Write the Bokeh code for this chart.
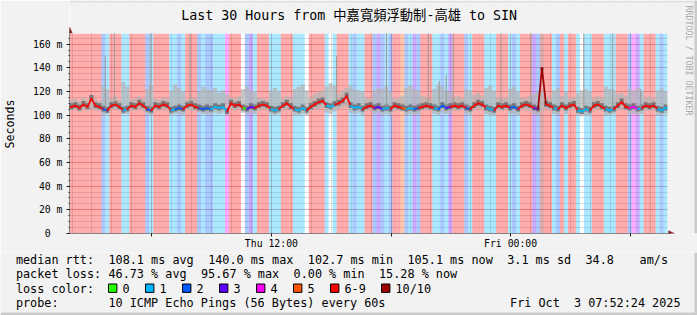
import math
from bokeh.plotting import figure
from bokeh.layouts import column
from bokeh.models import Range1d, FixedTicker
from bokeh.core.properties import value
from bokeh.embed import file_html
from bokeh.resources import INLINE

# ---------------- data ----------------
TITLE = "Last 30 Hours from 中嘉寬頻浮動制-高雄 to SIN"
START_HOUR = 1 + 52 / 60 + 24 / 3600      # Thu 01:52:24 in hours since Thu 00:00
SPAN_HOURS = 30
STEP_HOURS = 0.2                           # one cell = 12 minutes
Y_MAX_MS = 169

# packets lost out of 10 per cell (7 stands for the 6-9 class)
loss = [
    7, 7, 7, 7, 7, 7, 7, 7,
    2, 1,
    7, 7, 7,
    1, 1,
    7, 7, 7, 7,
    2, 1,
    7, 7, 7, 7,
    1, 1, 2, 1,
    7, 7, 7,
    2, 1, 2, 2, 1,
    1, 1, 4,
    7, 7, 7,
    0, 2, 3, 1,
    7, 7, 7,
    1, 1, 1,
    7, 7, 7,
    1, 1, 1, 0,
    7, 7, 7, 7,
    1, 0, 1,
    7, 7, 7,
    1, 2, 1, 1,
    7, 7,
    2, 3, 2, 1, 2,
    7, 7, 5,
    2, 1, 3, 2,
    7, 7, 7,
    1, 1, 2, 1, 3,
    7, 7, 7,
    2, 1,
    7, 7, 7,
    1, 1, 1,
    7, 7, 7,
    1, 2, 1,
    7, 7, 7,
    3, 2, 10,
    7, 7,
    1, 2, 7, 1,
    7, 7,
    1, 0, 1, 1,
    7, 7, 7,
    1, 1, 1,
    7, 7, 7,
    2, 4, 3, 1,
    7, 7, 7,
    1, 2, 1,
]

median_ms = [
    107, 108, 106, 109, 107, 114, 108, 107,
    105, 104,
    108, 109, 107,
    104, 105,
    108, 107, 110, 108,
    105, 104,
    108, 107, 109, 108,
    104, 105, 106, 105,
    108, 109, 107,
    106, 105, 106, 105, 107,
    106, 107, 103,
    110, 108, 109,
    106, 105, 107, 106,
    108, 109, 108,
    105, 104, 105,
    108, 110, 107,
    105, 104, 106, 104,
    107, 109, 111, 112,
    108, 107, 109,
    110, 112, 116,
    108, 106, 107, 105,
    107, 108,
    106, 107, 105, 106, 105,
    108, 107, 106,
    105, 106, 105, 106,
    107, 108, 107,
    106, 105, 108, 106, 107,
    108, 107, 108,
    106, 105,
    108, 110, 109,
    106, 105, 104,
    108, 107, 108,
    106, 107, 105,
    108, 109, 108,
    106, 105, 140,
    109, 108,
    106, 105, 108, 106,
    108, 109,
    104, 103, 105, 104,
    108, 109, 107,
    105, 104, 105,
    108, 111, 107,
    106, 107, 105, 106,
    108, 107, 108,
    105, 104, 106,
]

smoke_lo_ms = [
    104, 105, 103, 105, 104, 105, 104, 104,
    100, 101,
    105, 105, 104,
    101, 101,
    104, 104, 105, 104,
    101, 100,
    104, 104, 105, 104,
    100, 101, 101, 100,
    105, 104, 104,
    102, 101, 101, 101, 102,
    101, 102, 100,
    105, 104, 105,
    102, 101, 102, 101,
    104, 105, 104,
    101, 100, 101,
    104, 105, 104,
    100, 100, 101, 100,
    104, 105, 105, 106,
    102, 101, 103,
    105, 106, 107,
    102, 101, 102, 100,
    104, 105,
    101, 102, 100, 101, 100,
    104, 104, 103,
    100, 101, 100, 101,
    104, 105, 104,
    101, 100, 102, 101, 101,
    104, 104, 105,
    101, 100,
    104, 105, 105,
    101, 100, 100,
    104, 104, 105,
    101, 101, 100,
    105, 104, 104,
    101, 100, 104,
    105, 104,
    101, 100, 104, 101,
    104, 105,
    100, 99, 100, 100,
    104, 105, 104,
    100, 100, 101,
    104, 105, 104,
    101, 101, 100, 101,
    104, 104, 105,
    100, 100, 101,
]

smoke_hi_ms = [
    113, 114, 112, 115, 113, 117, 114, 112,
    124, 122,
    114, 116, 113,
    128, 124,
    113, 114, 116, 114,
    122, 125,
    114, 113, 115, 114,
    121, 126, 123, 120,
    113, 115, 114,
    120, 124, 122, 121, 123,
    119, 121, 118,
    115, 114, 116,
    122, 124, 121, 120,
    115, 114, 113,
    121, 123, 120,
    114, 116, 115,
    122, 124, 126, 121,
    115, 118, 120, 121,
    124, 127, 125,
    118, 121, 123,
    125, 122, 121, 120,
    115, 114,
    121, 123, 122, 124, 120,
    114, 115, 116,
    123, 125, 122, 121,
    116, 115, 114,
    122, 126, 124, 121, 120,
    115, 116, 114,
    122, 121,
    117, 119, 116,
    123, 125, 121,
    115, 114, 115,
    122, 124, 120,
    115, 114, 116,
    118, 120, 120,
    115, 114,
    121, 123, 116, 120,
    114, 115,
    119, 121, 122, 120,
    114, 116, 115,
    124, 122, 121,
    118, 119, 116,
    122, 121, 123, 120,
    115, 116, 114,
    121, 123, 120,
]

# single pings far above the smoke (hour since Thu 00:00, ms)
spike_hour = [3.67, 4.12, 5.92, 7.92, 15.27, 17.77, 19.87, 20.42, 20.77, 21.12, 23.52, 25.02, 27.67, 29.12, 30.52]
spike_ms = [150, 175, 175, 175, 150, 175, 175, 129, 134, 175, 175, 175, 175, 175, 122]

y_tick_ms = [0, 20, 40, 60, 80, 100, 120, 140, 160]
y_tick_labels = ["0\u00a0\u00a0", "20 m", "40 m", "60 m", "80 m", "100 m", "120 m", "140 m", "160 m"]
y_minor_ms = list(range(0, 170, 5))
x_tick_hour = [6, 12, 18, 24, 30]
x_tick_labels = ["", "Thu 12:00", "", "Fri 00:00", ""]
x_minor_hour = list(range(2, 34))

loss_names = ["0", "1", "2", "3", "4", "5", "6-9", "10/10"]
loss_colors = ["#26ff00", "#00b8ff", "#0059ff", "#5e00ff", "#ff00ff", "#ff5500", "#ff0000", "#a10000"]

rtt_stats = ["108.1 ms avg", "140.0 ms max", "102.7 ms min", "105.1 ms now", "3.1 ms sd", "34.8", "am/s"]
loss_stats = ["46.73 % avg", "95.67 % max", "0.00 % min", "15.28 % now"]
probe_text = "10 ICMP Echo Pings (56 Bytes) every 60s"
stamp_text = "Fri Oct \u00a03 07:52:24 2025"
watermark = "RRDTOOL / TOBI OETIKER"


def loss_class(n):
    if n <= 5:
        return n
    if n <= 9:
        return 6
    return 7


# ---------------- layout constants (pixels) ----------------
W = 697
MAIN_H = 252
LEG_H = 315 - MAIN_H
LEFT = 67            # chart left edge
CHART_W = 600        # chart width (30 h)
CHART_TOP = 33
CHART_BOTTOM = 233
BG = "#f2f2f2"
MONO = "DejaVu Sans Mono"
INK = "#1f1f1f"
ARROW = "#801f1f"

frame_w = W - LEFT
x_end = START_HOUR + SPAN_HOURS * frame_w / CHART_W
y_end = Y_MAX_MS * CHART_BOTTOM / (CHART_BOTTOM - CHART_TOP)

p = figure(width=W, height=MAIN_H, output_backend="svg", toolbar_location=None, title=None,
           x_range=Range1d(START_HOUR, x_end), y_range=Range1d(0, y_end),
           min_border_left=LEFT, min_border_right=0, min_border_top=0,
           min_border_bottom=MAIN_H - CHART_BOTTOM,
           background_fill_color="#ffffff", border_fill_color=BG, outline_line_color=None)
p.extra_x_ranges = {"px": Range1d(LEFT, W)}
p.extra_y_ranges = {"px": Range1d(CHART_BOTTOM, 0)}

n = len(loss)
t0 = [START_HOUR + i * STEP_HOURS for i in range(n)]
t1 = [t + STEP_HOURS for t in t0]
tc = [t + STEP_HOURS / 2 for t in t0]
cls = [loss_class(v) for v in loss]
col = [loss_colors[c] for c in cls]
band_alpha = [0.0 if v == 0 else 0.33 for v in loss]

# loss background
p.quad(left=t0, right=t1, bottom=0, top=Y_MAX_MS, fill_color=col, fill_alpha=band_alpha, line_color=None)

# smoke
p.quad(left=t0, right=t1, bottom=smoke_lo_ms, top=smoke_hi_ms,
       fill_color="#b4b4b4", fill_alpha=0.75, line_color=None)
core_lo = [max(lo, m - 2) for lo, m in zip(smoke_lo_ms, median_ms)]
core_hi = [min(max(hi, m), m + 3) for hi, m in zip(smoke_hi_ms, median_ms)]
p.quad(left=t0, right=t1, bottom=core_lo, top=core_hi,
       fill_color="#404040", fill_alpha=0.55, line_color=None)

# isolated slow pings
spike_base = [median_ms[min(n - 1, int((h - START_HOUR) / STEP_HOURS))] for h in spike_hour]
p.segment(x0=spike_hour, y0=spike_base, x1=spike_hour, y1=spike_ms, line_color="#9a9a9a", line_width=1)

# median line, coloured by loss
sx0 = [t0[0]] + tc[:-1] + [tc[-1]]
sx1 = [tc[0]] + tc[1:] + [t1[-1]]
sy0 = [median_ms[0]] + median_ms[:-1] + [median_ms[-1]]
sy1 = [median_ms[0]] + median_ms[1:] + [median_ms[-1]]
scol = [col[0]] + [col[i] if median_ms[i] >= median_ms[i + 1] else col[i + 1] for i in range(n - 1)] + [col[-1]]
p.segment(x0=sx0, y0=sy0, x1=sx1, y1=sy1, line_color=scol, line_width=1.7, line_cap="round")

# canvas outside the chart area (above and right of it)
p.quad(left=[LEFT, LEFT + CHART_W], right=[W, W], top=[0, 0], bottom=[CHART_TOP, CHART_BOTTOM + 0.5],
       fill_color=BG, line_color=None, x_range_name="px", y_range_name="px")
p.quad(left=[LEFT, W - 3], right=[W, W], top=[0, 0], bottom=[2, CHART_BOTTOM],
       fill_color=["#e0e0e0", "#cbcbcb"], line_color=None, x_range_name="px", y_range_name="px")

# axis lines and arrows
p.segment(x0=[LEFT, LEFT], y0=[CHART_BOTTOM, CHART_BOTTOM], x1=[LEFT, LEFT + CHART_W + 3], y1=[CHART_TOP - 4, CHART_BOTTOM],
          line_color=INK, line_width=1, x_range_name="px", y_range_name="px")
p.patches(xs=[[LEFT - 2.7, LEFT + 2.7, LEFT], [LEFT + CHART_W + 1, LEFT + CHART_W + 1, LEFT + CHART_W + 7]],
          ys=[[CHART_TOP - 0.5, CHART_TOP - 0.5, CHART_TOP - 6.5], [CHART_BOTTOM - 2.7, CHART_BOTTOM + 2.7, CHART_BOTTOM]],
          fill_color=ARROW, line_color=ARROW, line_width=0.5, x_range_name="px", y_range_name="px")

# title and watermark
p.text(x=[347.5], y=[15], text=[TITLE], text_font=value(MONO + ", Noto Sans CJK TC"),
       text_font_size=value("13.3px"), text_color="#000000", text_align="center", text_baseline="middle",
       x_range_name="px", y_range_name="px")
p.text(x=[688.5], y=[5], text=[watermark], text_font=value(MONO), text_font_size=value("8.3px"),
       text_color="#a9a9a9", text_align="left", text_baseline="middle", angle=-math.pi / 2,
       x_range_name="px", y_range_name="px")

# axes
yax = p.yaxis[0]
yax.ticker = FixedTicker(ticks=y_tick_ms, minor_ticks=y_minor_ms)
yax.major_label_overrides = {v: s for v, s in zip(y_tick_ms, y_tick_labels)}
yax.axis_label = "Seconds" + "\u00a0" * 2
yax.axis_label_text_font = MONO
yax.axis_label_text_font_size = "11.6px"
yax.axis_label_text_font_style = "normal"
yax.axis_label_text_color = "#000000"
yax.axis_label_standoff = 13
xax = p.xaxis[0]
xax.ticker = FixedTicker(ticks=x_tick_hour, minor_ticks=x_minor_hour)
xax.major_label_overrides = {v: s for v, s in zip(x_tick_hour, x_tick_labels)}
for ax in (xax, yax):
    ax.axis_line_color = None
    ax.major_tick_line_color = INK
    ax.minor_tick_line_color = INK
    ax.major_tick_in = 0
    ax.minor_tick_in = 0
    ax.minor_tick_out = 0
    ax.major_label_text_font = MONO
    ax.major_label_text_font_size = "9.8px"
    ax.major_label_text_color = "#000000"
yax.major_tick_out = 3
yax.minor_tick_out = 1
yax.major_label_standoff = 4
xax.major_tick_out = 3
xax.major_label_standoff = 1

for g in (p.xgrid[0], p.ygrid[0]):
    g.grid_line_color = "#de4f4f"
    g.grid_line_alpha = 0.6
    g.grid_line_dash = "1 1"
    g.minor_grid_line_color = "#8f8f8f"
    g.minor_grid_line_alpha = 0.6
    g.minor_grid_line_dash = "1 1"

# ---------------- legend strip ----------------
q = figure(width=W, height=LEG_H, output_backend="svg", toolbar_location=None, title=None,
           x_range=Range1d(0, W), y_range=Range1d(315, MAIN_H),
           x_axis_location=None, y_axis_location=None, min_border=0,
           min_border_left=0, min_border_right=0, min_border_top=0, min_border_bottom=0,
           background_fill_color=BG, border_fill_color=BG, outline_line_color=None)
q.grid.visible = False

for fig in (p, q):
    try:
        fig.frame_align = False
    except Exception:
        pass

FS = value("11.8px")
CH = 7.12            # legend character advance
X0 = 15.4            # legend left margin


def colx(c):
    return X0 + c * CH


rows_y = [259, 273.5, 288, 302]
txt, tx, ty = [], [], []


def put(s, x, y):
    txt.append(s)
    tx.append(x)
    ty.append(y)


put("median rtt:", colx(0), rows_y[0])
for s, c in zip(rtt_stats, [13, 27, 41, 55, 69, 80, 87.6]):
    put(s, colx(c), rows_y[0])
put("packet loss:", colx(0), rows_y[1])
for s, c in zip(loss_stats, [13, 26, 39, 51]):
    put(s, colx(c), rows_y[1])
put("loss color:", colx(0), rows_y[2])
box_x = [108, 145, 182, 219, 256, 293, 330, 381]
for name, x in zip(loss_names, box_x):
    put(name, x + 14, rows_y[2])
put("probe:", colx(0), rows_y[3])
put(probe_text, colx(13), rows_y[3])

q.text(x=tx, y=ty, text=txt, text_font=value(MONO), text_font_size=FS, text_color="#000000",
       text_align="left", text_baseline="middle")
q.text(x=[680], y=[rows_y[3]], text=[stamp_text], text_font=value(MONO), text_font_size=FS,
       text_color="#000000", text_align="right", text_baseline="middle")
q.quad(left=box_x, right=[x + 8.4 for x in box_x], top=[rows_y[2] - 4.5] * len(box_x),
       bottom=[rows_y[2] + 3.9] * len(box_x), fill_color=loss_colors, line_color="#000000", line_width=1)
q.quad(left=[W - 3, 0], right=[W, W], top=[MAIN_H, 312], bottom=[315, 315],
       fill_color="#cbcbcb", line_color=None)

layout = column(p, q, spacing=0)
open("out.html", "w").write(file_html(layout, INLINE))
